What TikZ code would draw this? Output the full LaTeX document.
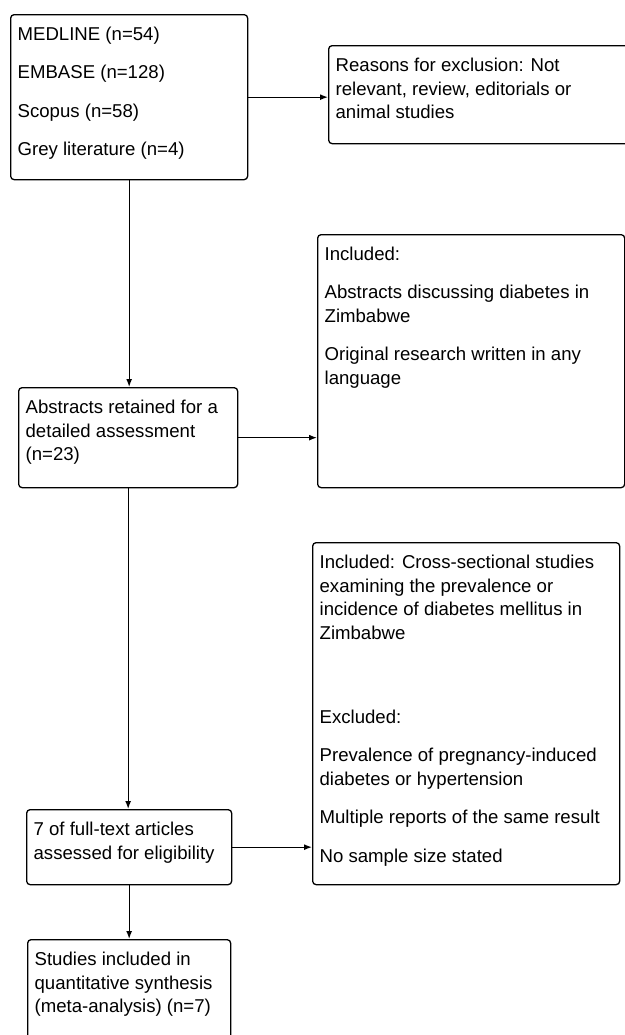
\documentclass[tikz,border=0pt]{standalone}
\usepackage{fontspec}
\setmainfont{Liberation Sans}
\usetikzlibrary{arrows.meta}
\newcommand{\LineT}[1]{\hbox{\hskip7bp\vrule width0pt height15bp depth5bp\relax #1}}
\newcommand{\ParGap}{\vskip14.8bp\relax}
\newcommand{\BoxBody}[3]{\vbox to #2{\hrule height0pt depth0pt width#1\relax\baselineskip=23.5bp\relax\lineskiplimit=-100bp\relax\vskip11bp\relax #3\vfil}}
\tikzset{
  flowbox/.style={draw=black, line width=1.3bp, rounded corners=3.5bp, inner sep=0pt, anchor=north west,
    font=\fontsize{18.6bp}{23.5bp}\selectfont},
  flowarrow/.style={draw=black, line width=1.3bp, -{Latex[length=8bp,width=6bp]}}
}
\begin{document}
\begin{tikzpicture}[x=1bp,y=-1bp]
\useasboundingbox (0,0) rectangle (625,1035);
\clip (0,0) rectangle (625,1035);
\fill[white] (0,0) rectangle (625,1035);

\node[flowbox] (src) at (10,14) {\BoxBody{237bp}{165bp}{%
  \LineT{MEDLINE (n=54)}\ParGap
  \LineT{EMBASE (n=128)}\ParGap
  \LineT{Scopus (n=58)}\ParGap
  \LineT{Grey literature (n=4)}}};

\node[flowbox] (excl) at (328,45) {\BoxBody{320bp}{98bp}{%
  \LineT{Reasons for exclusion: Not}
  \LineT{relevant, review, editorials or}
  \LineT{animal studies}}};

\node[flowbox] (inc) at (317,234) {\BoxBody{307bp}{253bp}{%
  \LineT{Included:}\ParGap
  \LineT{Abstracts discussing diabetes in}
  \LineT{Zimbabwe}\ParGap
  \LineT{Original research written in any}
  \LineT{language}}};

\node[flowbox] (abs) at (18,387) {\BoxBody{219bp}{100bp}{%
  \LineT{Abstracts retained for a}
  \LineT{detailed assessment}
  \LineT{(n=23)}}};

\node[flowbox] (crit) at (312,542) {\BoxBody{307bp}{342bp}{%
  \LineT{Included: Cross-sectional studies}
  \LineT{examining the prevalence or}
  \LineT{incidence of diabetes mellitus in}
  \LineT{Zimbabwe}\vskip61bp\relax
  \LineT{Excluded:}\ParGap
  \LineT{Prevalence of pregnancy-induced}
  \LineT{diabetes or hypertension}\ParGap
  \LineT{Multiple reports of the same result}\ParGap
  \LineT{No sample size stated}}};

\node[flowbox] (full) at (26,809) {\BoxBody{205bp}{75bp}{%
  \LineT{7 of full-text articles}
  \LineT{assessed for eligibility}}};

\node[flowbox] (final) at (27,939) {\BoxBody{203bp}{130bp}{%
  \LineT{Studies included in}
  \LineT{quantitative synthesis}
  \LineT{(meta-analysis) (n=7)}}};

\draw[flowarrow] (src.south) -- (src.south |- abs.north);
\draw[flowarrow] (abs.south) -- (abs.south |- full.north);
\draw[flowarrow] (full.south) -- (full.south |- final.north);
\draw[flowarrow] (src.east) -- (src.east -| excl.west);
\draw[flowarrow] (abs.east) -- (abs.east -| inc.west);
\draw[flowarrow] (full.east) -- (full.east -| crit.west);
\end{tikzpicture}
\end{document}
